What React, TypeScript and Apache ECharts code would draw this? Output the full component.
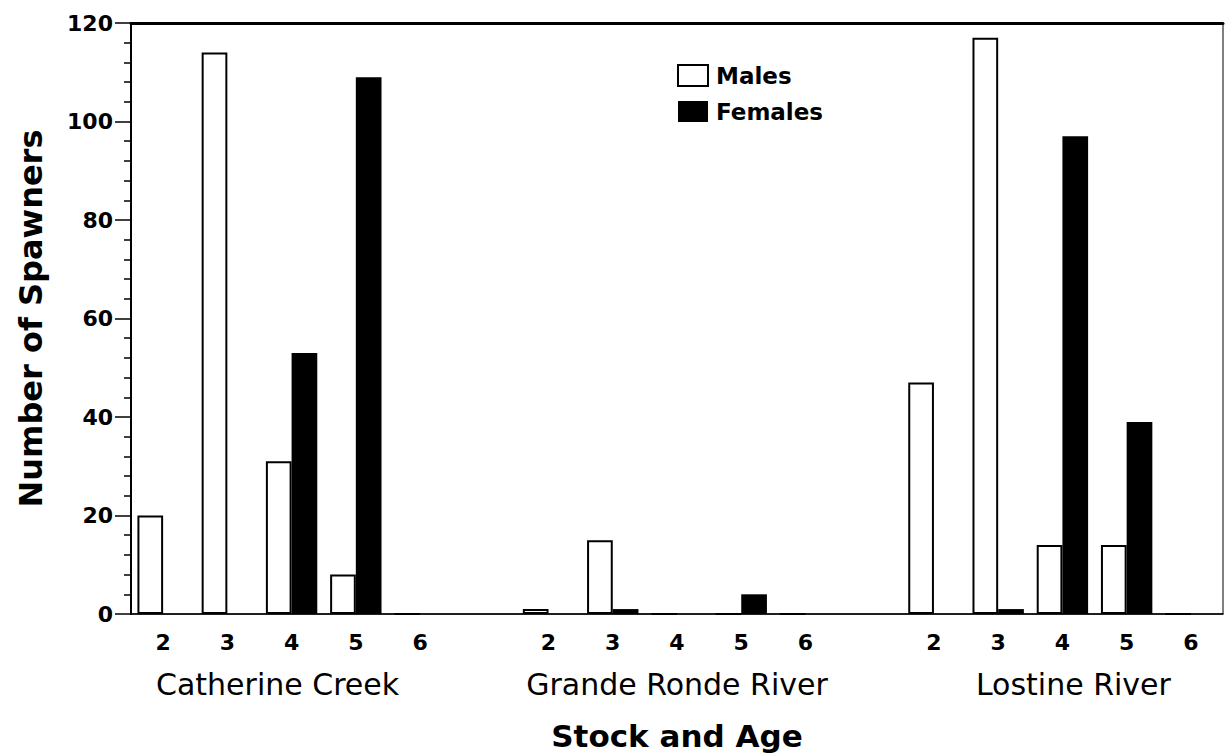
import React, { useEffect, useRef } from "react";
import * as echarts from "echarts";

const stocks = ["Catherine Creek", "Grande Ronde River", "Lostine River"];
const ages = ["2", "3", "4", "5", "6"];
const malesCatherine = [20, 114, 31, 8, 0];
const malesGrande = [1, 15, 0, 0, 0];
const malesLostine = [47, 117, 14, 14, 0];
const femalesCatherine = [0, 0, 53, 109, 0];
const femalesGrande = [0, 1, 0, 4, 0];
const femalesLostine = [0, 1, 97, 39, 0];
const yTicks = [0, 20, 40, 60, 80, 100, 120];

const FONT = "DejaVu Sans";

export default function App() {
  const ref = useRef<HTMLDivElement>(null);
  useEffect(() => {
    document.body.style.margin = "0";
    const chart = echarts.init(ref.current!, undefined, { renderer: "svg" });

    const males = [malesCatherine, malesGrande, malesLostine];
    const females = [femalesCatherine, femalesGrande, femalesLostine];
    const categories: string[] = [];
    const groupOf: Record<number, number> = {};
    const mData: any[] = [];
    const fData: any[] = [];
    stocks.forEach((s, si) => {
      ages.forEach((a, ai) => {
        if (ai === 2) groupOf[categories.length] = si;
        categories.push(a);
        mData.push(males[si][ai]);
        fData.push(females[si][ai]);
      });
      if (si < stocks.length - 1) {
        categories.push(" ");
        mData.push("-");
        fData.push("-");
      }
    });
    const groupPads = [
      [0, 28, 0, 0],
      [0, 0, 0, 0],
      [0, 0, 0, 22],
    ];
    const rich: any = {};
    groupPads.forEach((p, i) => {
      rich["g" + i] = {
        fontFamily: FONT,
        fontSize: 30,
        fontWeight: "normal",
        color: "#000",
        lineHeight: 62,
        padding: p,
      };
    });

    chart.setOption({
      animation: false,
      textStyle: { fontFamily: FONT, color: "#000" },
      grid: {
        left: 131,
        right: 2,
        top: 23,
        bottom: 139,
        show: true,
        borderColor: "#000",
        borderWidth: 1,
        containLabel: false,
        outerBoundsMode: "none",
      },
      legend: {
        data: ["Males", "Females"],
        orient: "vertical",
        left: 672,
        top: 59,
        itemWidth: 30,
        itemHeight: 21,
        itemGap: 13,
        icon: "rect",
        textStyle: {
          fontFamily: FONT,
          fontSize: 23,
          fontWeight: "bold",
          color: "#000",
          padding: [0, 0, 0, 3],
        },
      },
      xAxis: [
        {
          type: "category",
          data: categories,
          position: "bottom",
          axisLine: { lineStyle: { color: "#000", width: 1.5 } },
          axisTick: { show: false },
          axisLabel: {
            interval: 0,
            margin: 17,
            fontFamily: FONT,
            fontSize: 22,
            fontWeight: "bold",
            color: "#000",
            lineHeight: 22,
            formatter: (v: string, idx: number) => {
              const g = groupOf[idx];
              return g !== undefined ? `${v}\n{g${g}|${stocks[g]}}` : v;
            },
            rich,
          },
          name: "Stock and Age",
          nameLocation: "middle",
          nameGap: 101,
          nameTextStyle: {
            fontFamily: FONT,
            fontSize: 31,
            lineHeight: 32,
            fontWeight: "bold",
            color: "#000",
          },
        },
        {
          type: "category",
          data: categories,
          position: "top",
          axisLine: { lineStyle: { color: "#000", width: 3 } },
          axisTick: { show: false },
          axisLabel: { show: false },
        },
      ],
      yAxis: {
        type: "value",
        min: yTicks[0],
        max: yTicks[yTicks.length - 1],
        interval: 20,
        axisLine: { show: true, lineStyle: { color: "#000", width: 2 } },
        axisTick: { show: true, length: 16, lineStyle: { color: "#000", width: 1.5 } },
        minorTick: { show: true, splitNumber: 5, length: 7, lineStyle: { color: "#000", width: 1.5 } },
        splitLine: { show: false },
        axisLabel: { margin: 18, fontFamily: FONT, fontSize: 22, fontWeight: "bold", color: "#000" },
        name: "Number of Spawners",
        nameLocation: "middle",
        nameGap: 84,
        nameTextStyle: { fontFamily: FONT, fontSize: 32, fontWeight: "bold", color: "#000" },
      },
      series: [
        {
          name: "Males",
          type: "bar",
          data: mData,
          barGap: "0%",
          barCategoryGap: "20%",
          itemStyle: { color: "#fff", borderColor: "#000", borderWidth: 2 },
        },
        {
          name: "Females",
          type: "bar",
          data: fData,
          barGap: "0%",
          barCategoryGap: "20%",
          itemStyle: { color: "#000", borderColor: "#000", borderWidth: 0 },
        },
      ],
    });
    return () => chart.dispose();
  }, []);
  return <div ref={ref} style={{ width: 1225, height: 753 }} />;
}
